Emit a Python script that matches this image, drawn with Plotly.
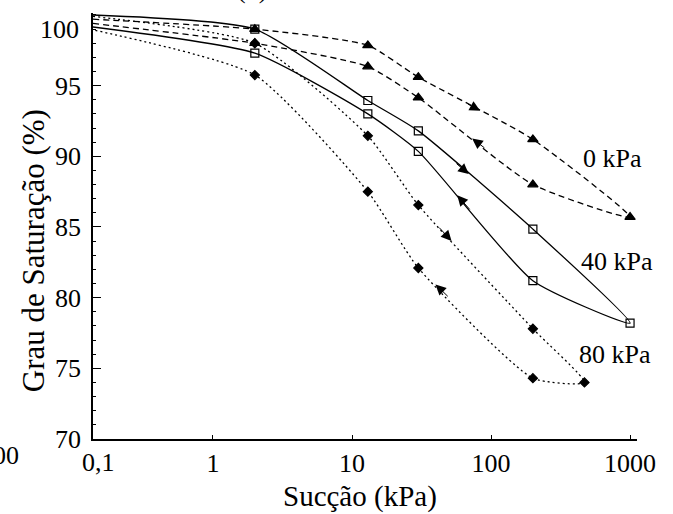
import math
import plotly.graph_objects as go

# ---- data ----
# suction values along each loop: drying (left->right) then wetting (right->left)
suction_0 = [0.137, 2, 13, 30, 200, 1000, 200, 30, 13, 2, 0.137]
sat_0     = [99.7, 99.0, 97.85, 95.6, 91.2, 85.7, 88.0, 94.15, 96.35, 98.0, 99.4]

suction_40 = [0.137, 2, 13, 30, 200, 1000, 200, 30, 13, 2, 0.137]
sat_40     = [100.0, 99.0, 93.95, 91.8, 84.85, 78.2, 81.2, 90.35, 93.0, 97.3, 99.15]

suction_80 = [0.137, 2, 13, 30, 200, 470, 200, 30, 13, 2, 0.137]
sat_80     = [99.9, 98.0, 91.45, 86.55, 77.8, 74.0, 74.3, 82.1, 87.5, 95.75, 98.95]

loop_labels = ["0 kPa", "40 kPa", "80 kPa"]

# direction arrows: (loop index, segment start index, fraction along segment)
arrows = [
    (0, 3, 0.54), (0, 6, 0.53),
    (1, 3, 0.44), (1, 6, 0.66),
    (2, 3, 0.29), (2, 6, 0.85),
]

y_ticks = [70, 75, 80, 85, 90, 95]
x_ticks = [1, 10, 100, 1000]
x_ticktext = ["1", "10", "100", "1000"]

FONT = "Liberation Serif, DejaVu Serif, serif"

fig = go.Figure()

series = [
    (suction_0, sat_0, "6px,4px", "triangle-up", 9),
    (suction_40, sat_40, "solid", "square-open", 8),
    (suction_80, sat_80, "2px,3px", "diamond", 7),
]
for (xs, ys, dash, sym, size), name in zip(series, loop_labels):
    fig.add_trace(go.Scatter(
        x=xs, y=ys, mode="lines+markers", name=name,
        line=dict(color="black", width=1.3, dash=dash, shape="spline", smoothing=0.55),
        marker=dict(symbol=sym, size=size, color="black",
                    line=dict(color="black", width=1.2)),
        cliponaxis=False, showlegend=False,
    ))

annotations = []
for (k, i, f) in arrows:
    xs, ys = series[k][0], series[k][1]
    lx0, lx1 = math.log10(xs[i]), math.log10(xs[i + 1])
    hx, hy = lx0 + f * (lx1 - lx0), ys[i] + f * (ys[i + 1] - ys[i])
    g = f - 0.12
    tx, ty = lx0 + g * (lx1 - lx0), ys[i] + g * (ys[i + 1] - ys[i])
    annotations.append(dict(
        x=hx, y=hy, xref="x", yref="y", ax=tx, ay=ty, axref="x", ayref="y",
        showarrow=True, arrowhead=2, arrowsize=2.1, arrowwidth=1.0,
        arrowcolor="black", text="",
    ))

L, R, T, B = 93, 637, 13, 438.6
PW, PH = R - L, B - T
def px(xp):
    return (xp - L) / PW
def py(yp):
    return (B - yp) / PH

def txt(text, xp, yp, size, xanchor="center", yanchor="middle", angle=0):
    annotations.append(dict(
        text=text, x=px(xp), y=py(yp), xref="paper", yref="paper",
        xanchor=xanchor, yanchor=yanchor, showarrow=False, textangle=angle,
        font=dict(family=FONT, size=size, color="black"),
    ))

# curve labels
txt(loop_labels[0], 612, 158, 26)
txt(loop_labels[1], 617, 261, 26)
txt(loop_labels[2], 615, 354, 26)
# tick labels placed as in the scan
txt("100", 81, 29, 26, xanchor="right")
txt("0,1", 98, 462, 26)
# visible remainder of the neighbouring panel's label, and the cut title
txt("00", -9, 455, 26, xanchor="left")
txt("(b)  Índice de vazios", 343, 6, 26, yanchor="bottom")
# axis titles
txt("Sucção (kPa)", 360, 496, 29)
txt("Grau de Saturação (%)", 33, 251, 31, angle=-90)

fig.update_layout(
    width=673, height=514, autosize=False,
    margin=dict(l=L, r=673 - R, t=T, b=514 - B),
    paper_bgcolor="white", plot_bgcolor="white",
    font=dict(family=FONT, size=26, color="black"),
    annotations=annotations,
)
fig.update_xaxes(
    type="log", range=[-0.863, 3.05],
    tickvals=x_ticks, ticktext=x_ticktext,
    ticks="inside", ticklen=4, tickcolor="black",
    showline=True, linecolor="black", linewidth=2,
    showgrid=False, zeroline=False, ticklabelstandoff=0,
    tickfont=dict(family=FONT, size=26, color="black"),
)
fig.update_yaxes(
    range=[70, 100.14], tickvals=y_ticks,
    ticks="inside", ticklen=8, tickcolor="black", tickwidth=1.3,
    minor=dict(ticks="inside", ticklen=3, dtick=1, tick0=70, tickcolor="black"),
    showline=True, linecolor="black", linewidth=1.5,
    showgrid=False, zeroline=False, ticklabelstandoff=5,
    tickfont=dict(family=FONT, size=26, color="black"),
)

fig.write_html("out.html")
